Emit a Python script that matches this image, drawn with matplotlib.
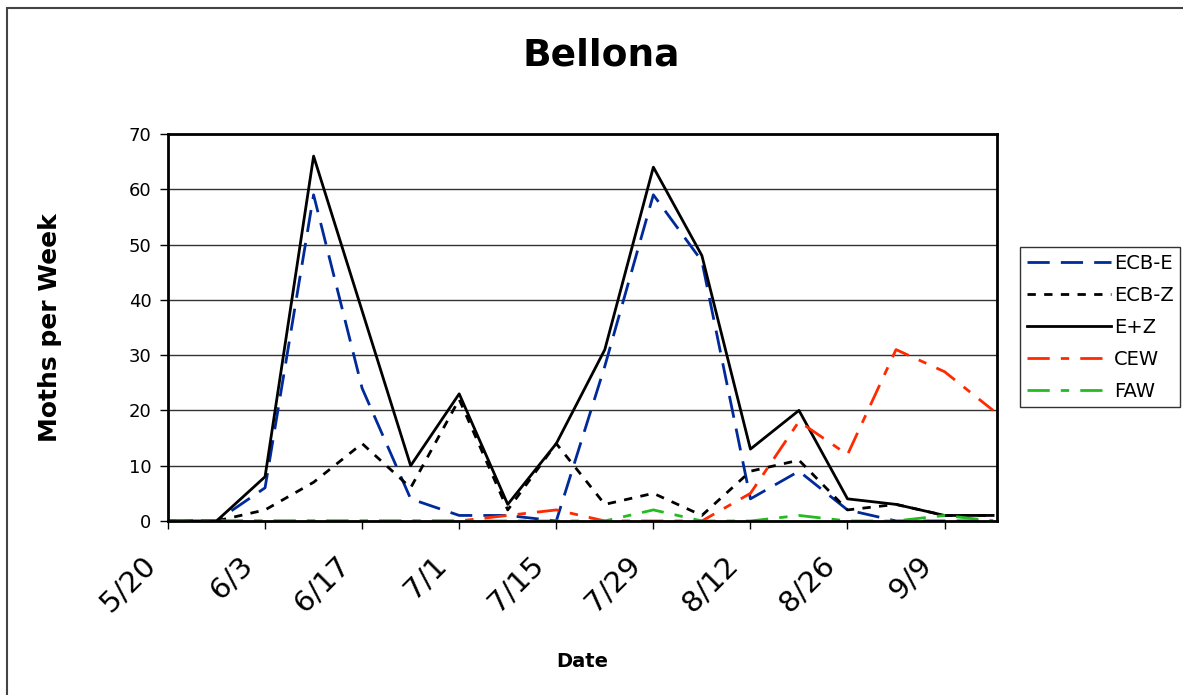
import datetime as dt
import matplotlib
matplotlib.use("Agg")
import matplotlib.pyplot as plt
import matplotlib.dates as mdates
from matplotlib.patches import Rectangle

# weekly trap counts, Bellona
start = dt.date(2007, 5, 20)
dates = [start + dt.timedelta(weeks=i) for i in range(18)]

ecb_e = [0, 0, 6, 59, 24, 4, 1, 1, 0, 28, 59, 47, 4, 9, 2, 0, 0, 0]
ecb_z = [0, 0, 2, 7, 14, 6, 22, 2, 14, 3, 5, 1, 9, 11, 2, 3, 1, 1]
e_z = [0, 0, 8, 66, 38, 10, 23, 3, 14, 31, 64, 48, 13, 20, 4, 3, 1, 1]
cew = [0, 0, 0, 0, 0, 0, 0, 1, 2, 0, 0, 0, 5, 18, 12, 31, 27, 20]
faw = [0, 0, 0, 0, 0, 0, 0, 0, 0, 0, 2, 0, 0, 1, 0, 0, 1, 0]

tick_dates = [start + dt.timedelta(weeks=2 * i) for i in range(9)]
tick_labels = [f"{d.month}/{d.day}" for d in tick_dates]

fig = plt.figure(figsize=(11.83, 6.95), dpi=100)
ax = fig.add_axes([0.142, 0.2504, 0.701, 0.5568])

ax.plot(dates, ecb_e, color="#002a9a", lw=2, dashes=(8, 4), label="ECB-E")
ax.plot(dates, ecb_z, color="black", lw=2, dashes=(3, 3), label="ECB-Z")
ax.plot(dates, e_z, color="black", lw=2, label="E+Z")
ax.plot(dates, cew, color="#ff2a00", lw=2, dashes=(8, 4, 3, 4), label="CEW")
ax.plot(dates, faw, color="#22bb22", lw=2, dashes=(8, 4, 3, 4), label="FAW")

ax.set_ylim(0, 70)
ax.set_yticks(range(0, 71, 10))
ax.set_xlim(mdates.date2num(start), mdates.date2num(start) + 119.6)
ax.set_xticks(tick_dates)
# slanted labels sit up-left of their tick, as in the original
ax.set_xticklabels([t + " " for t in tick_labels], rotation=45, ha="right",
                   va="bottom", rotation_mode="anchor", fontsize=21)
ax.tick_params(axis="y", labelsize=13, length=6, width=1, pad=6)
ax.tick_params(axis="x", length=6, width=1, pad=26)
ax.grid(axis="y", color="#333333", lw=1)
ax.set_axisbelow(True)
for sp in ax.spines.values():
    sp.set_linewidth(2)

ax.set_ylabel("Moths per Week", fontsize=18, fontweight="bold", labelpad=48)
ax.set_xlabel("Date", fontsize=14, fontweight="bold", labelpad=24)
fig.text(0.508, 0.92, "Bellona", ha="center", va="center",
         fontsize=27, fontweight="bold")

leg = ax.legend(loc="upper left", bbox_to_anchor=(1.028, 0.707),
                fontsize=14, frameon=True, fancybox=False, edgecolor="black",
                handlelength=4.3, handletextpad=0.15, borderpad=0.35,
                labelspacing=0.66, borderaxespad=0)
leg.get_frame().set_linewidth(1)

# outer chart-area border
fig.patches.append(Rectangle((7 / 1183, -0.05), 1.1, 1 - 8 / 695 + 0.05,
                             transform=fig.transFigure, fill=False,
                             edgecolor="#444444", lw=1.5))

fig.savefig("out.png", dpi=100)
